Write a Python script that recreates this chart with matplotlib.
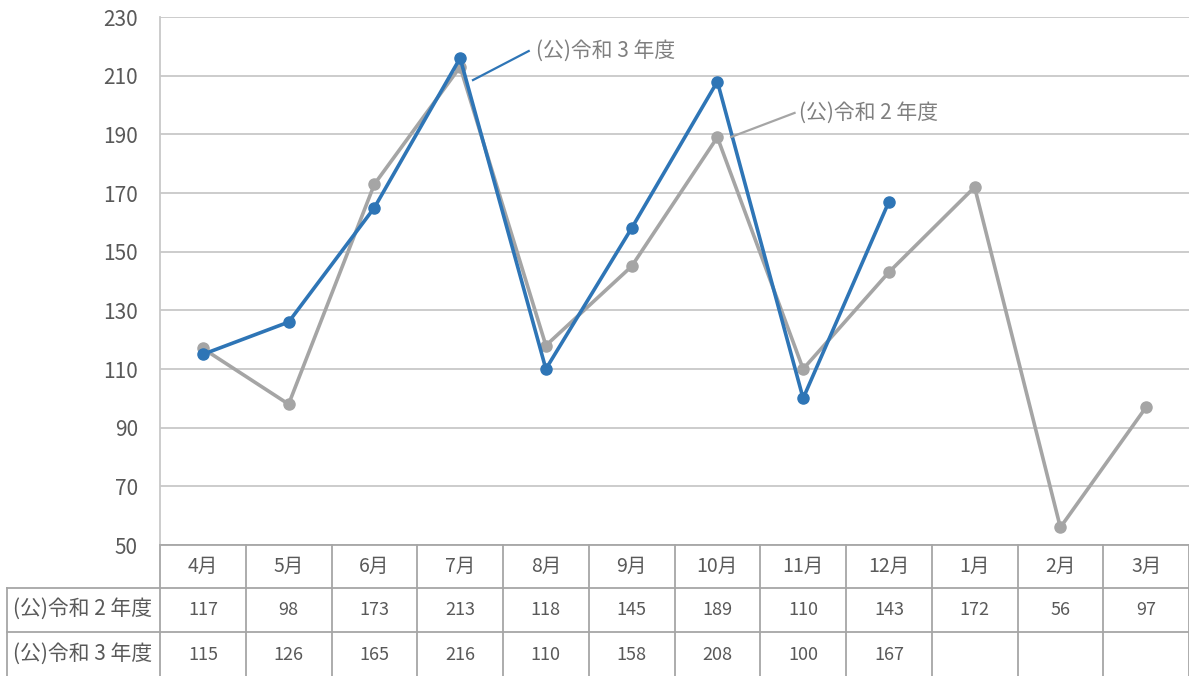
import numpy as np
import matplotlib.pyplot as plt

plt.rcParams['font.family'] = ['Noto Sans CJK JP', 'DejaVu Sans']

months = ['4月', '5月', '6月', '7月', '8月', '9月', '10月', '11月', '12月', '1月', '2月', '3月']
label_r2 = '(公)令和 2 年度'
label_r3 = '(公)令和 3 年度'
r2 = [117, 98, 173, 213, 118, 145, 189, 110, 143, 172, 56, 97]
r3 = [115, 126, 165, 216, 110, 158, 208, 100, 167]

blue = '#2E75B6'
gray = '#A5A5A5'
grid_c = '#C8C8C8'
text_c = '#595959'

W, H = 1189, 676
fig = plt.figure(figsize=(W / 100, H / 100), dpi=100)
ax = fig.add_axes([160 / W, (H - 545) / H, (W - 160) / W, (545 - 17) / H])

x = np.arange(len(months))
r3_full = np.array(r3 + [np.nan] * (len(months) - len(r3)), dtype=float)

ax.plot(x, r2, color=gray, lw=2.6, marker='o', ms=8, zorder=3)
ax.plot(x, r3_full, color=blue, lw=2.6, marker='o', ms=8, zorder=4)

ax.set_xlim(-0.5, len(months) - 0.5)
ax.set_ylim(50, 230)
ax.set_yticks(range(50, 231, 20))
ax.set_xticks([])
ax.tick_params(axis='y', length=0, pad=16, labelsize=15, labelcolor=text_c)
ax.grid(axis='y', color=grid_c, lw=1.3)
ax.set_axisbelow(True)
for s in ['top', 'right']:
    ax.spines[s].set_visible(False)
ax.spines['left'].set_color(grid_c)
ax.spines['left'].set_linewidth(1.3)
ax.spines['bottom'].set_color('#A6A6A6')
ax.spines['bottom'].set_linewidth(1.3)

# series labels with leader lines
ax.plot([3.15, 3.80], [208.5, 218.4], color=blue, lw=1.6, zorder=5)
ax.text(3.88, 218.6, label_r3, ha='left', va='center', fontsize=15, color='#7F7F7F')
ax.plot([6.16, 6.90], [189.1, 197.3], color=gray, lw=1.6, zorder=5)
ax.text(6.95, 197.3, label_r2, ha='left', va='center', fontsize=15, color='#7F7F7F')

# data table below the plot (pixel rows converted to axes fraction)
tr = ax.get_xaxis_transform()
def ypx(py):
    return (545 - py) / (545 - 17)

tbl_c = '#A6A6A6'
n = len(months)
x_left = -0.5 - (160 - 7) / ((W - 160) / n)
for b in np.arange(n + 1) - 0.5:
    ax.plot([b, b], [ypx(545), ypx(676)], color=tbl_c, lw=1.3, transform=tr, clip_on=False)
ax.plot([x_left, x_left], [ypx(588), ypx(676)], color=tbl_c, lw=1.3, transform=tr, clip_on=False)
for py in [588, 632]:
    ax.plot([x_left, n - 0.5], [ypx(py), ypx(py)], color=tbl_c, lw=1.3, transform=tr, clip_on=False)

for i, m in enumerate(months):
    ax.text(i, ypx(566), m, ha='center', va='center', fontsize=14, color=text_c, transform=tr)
    ax.text(i, ypx(610), str(r2[i]), ha='center', va='center', fontsize=13, color=text_c, transform=tr)
    if i < len(r3):
        ax.text(i, ypx(655), str(r3[i]), ha='center', va='center', fontsize=13, color=text_c, transform=tr)

ax.text(x_left + 0.07, ypx(609), label_r2, ha='left', va='center', fontsize=15, color=text_c, transform=tr)
ax.text(x_left + 0.07, ypx(654), label_r3, ha='left', va='center', fontsize=15, color=text_c, transform=tr)

fig.savefig('out.png', dpi=100)
